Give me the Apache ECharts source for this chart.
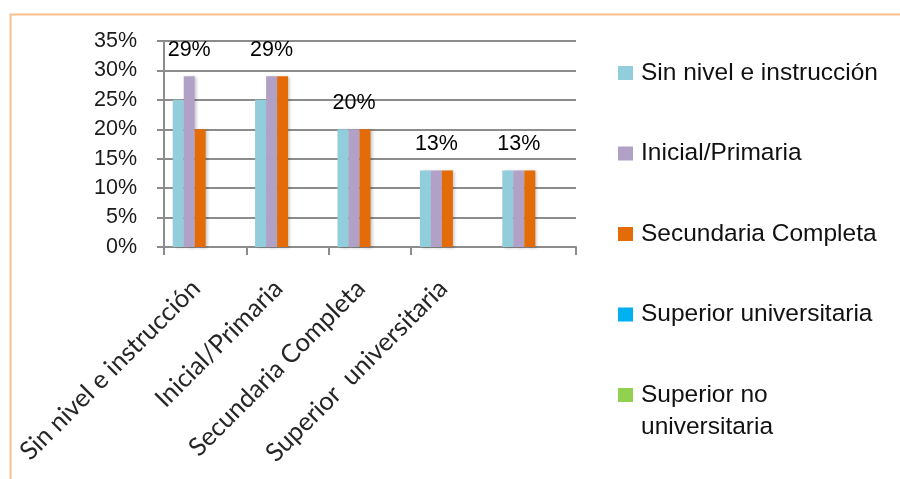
<!DOCTYPE html>
<html>
<head>
<meta charset="utf-8">
<script src="https://cdn.jsdelivr.net/npm/echarts@6/dist/echarts.min.js"></script>
<style>
  html, body { margin: 0; padding: 0; background: #ffffff; }
  #chart { width: 900px; height: 479px; }
</style>
</head>
<body>
<div id="chart"></div>
<script>
// ---- Data ----
const categories = [
  'Sin nivel e instrucción',
  'Inicial/Primaria',
  'Secundaria Completa',
  'Superior  universitaria',
  'Superior no universitaria'
];
const seriesNames = [
  'Sin nivel e instrucción',
  'Inicial/Primaria',
  'Secundaria Completa',
  'Superior universitaria',
  'Superior no universitaria'
];
const sinNivel = [25, 25, 20, 13, 13];
const inicialPrimaria = [29, 29, 20, 13, 13];
const secundariaCompleta = [20, 29, 20, 13, 13];
const superiorUniversitaria = [0, 0, 0, 0, 0];
const superiorNoUniversitaria = [0, 0, 0, 0, 0];
const yTicks = [0, 5, 10, 15, 20, 25, 30, 35];

// ---- Styles ----
const colors = ['#92CDDC', '#B2A1C7', '#E36C09', '#00B0F0', '#92D050'];
const seriesData = [sinNivel, inicialPrimaria, secundariaCompleta, superiorUniversitaria, superiorNoUniversitaria];
const barWidths = [11, 11, 11, 16, 16];
const gridColor = '#8c8c8c';

const chart = echarts.init(document.getElementById('chart'), null, { renderer: 'canvas' });

const series = seriesNames.map((name, i) => ({
  name: name,
  type: 'bar',
  data: seriesData[i],
  barWidth: barWidths[i],
  barGap: '0%',
  itemStyle: {
    color: colors[i],
    shadowColor: 'rgba(0,0,0,0.22)',
    shadowBlur: 3,
    shadowOffsetX: 2,
    shadowOffsetY: 1
  },
  label: i === 1 ? {
    show: true,
    position: 'top',
    distance: 15,
    formatter: '{c}%',
    fontFamily: '"Liberation Sans", Arial, sans-serif',
    fontSize: 21.5,
    color: '#000000'
  } : { show: false },
  emphasis: { disabled: true },
  animation: false
}));

const option = {
  animation: false,
  color: colors,
  grid: { left: 164, right: 324, top: 41, bottom: 232, containLabel: false },
  xAxis: {
    type: 'category',
    data: categories,
    boundaryGap: true,
    axisLine: { show: true, lineStyle: { color: gridColor, width: 2 } },
    axisTick: { show: true, length: 8, lineStyle: { color: gridColor, width: 2 }, alignWithLabel: false },
    axisLabel: {
      interval: function (idx) { return idx < 4; },
      rotate: 45,
      margin: 28,
      padding: [0, 13, 0, 0],
      fontFamily: 'Lato, "Open Sans", sans-serif',
      fontSize: 25.5,
      color: '#262626'
    },
    splitLine: { show: false }
  },
  yAxis: {
    type: 'value',
    min: yTicks[0],
    max: yTicks[yTicks.length - 1],
    interval: 5,
    axisLine: { show: true, lineStyle: { color: gridColor, width: 2 } },
    axisTick: { show: true, length: 7, lineStyle: { color: gridColor, width: 2 } },
    axisLabel: {
      formatter: '{value}%',
      margin: 27,
      fontFamily: '"Liberation Sans", Arial, sans-serif',
      fontSize: 21.5,
      color: '#1a1a1a'
    },
    splitLine: { show: true, lineStyle: { color: gridColor, width: 2 } }
  },
  legend: {
    orient: 'vertical',
    left: 618,
    top: 59,
    padding: 0,
    itemGap: 52.5,
    itemWidth: 15,
    itemHeight: 14,
    icon: 'rect',
    data: seriesNames,
    formatter: function (name) {
      return name === 'Superior no universitaria' ? 'Superior no' : name;
    },
    textStyle: {
      fontFamily: '"Liberation Sans", Arial, sans-serif',
      fontSize: 24.5,
      lineHeight: 28,
      color: '#111111',
      padding: [0, 0, 0, 3]
    },
    selectedMode: false
  },
  graphic: [
    {
      type: 'rect',
      left: 8,
      top: 12,
      shape: { width: 950, height: 520 },
      style: { fill: 'none', stroke: '#F9BE8C', lineWidth: 2 },
      silent: true,
      z: -10
    },
    {
      type: 'text',
      left: 641,
      top: 413,
      style: {
        text: 'universitaria',
        fontFamily: '"Liberation Sans", Arial, sans-serif',
        fontSize: 24.5,
        lineHeight: 28,
        fill: '#111111'
      },
      silent: true
    }
  ],
  series: series
};

chart.setOption(option);
</script>
</body>
</html>
